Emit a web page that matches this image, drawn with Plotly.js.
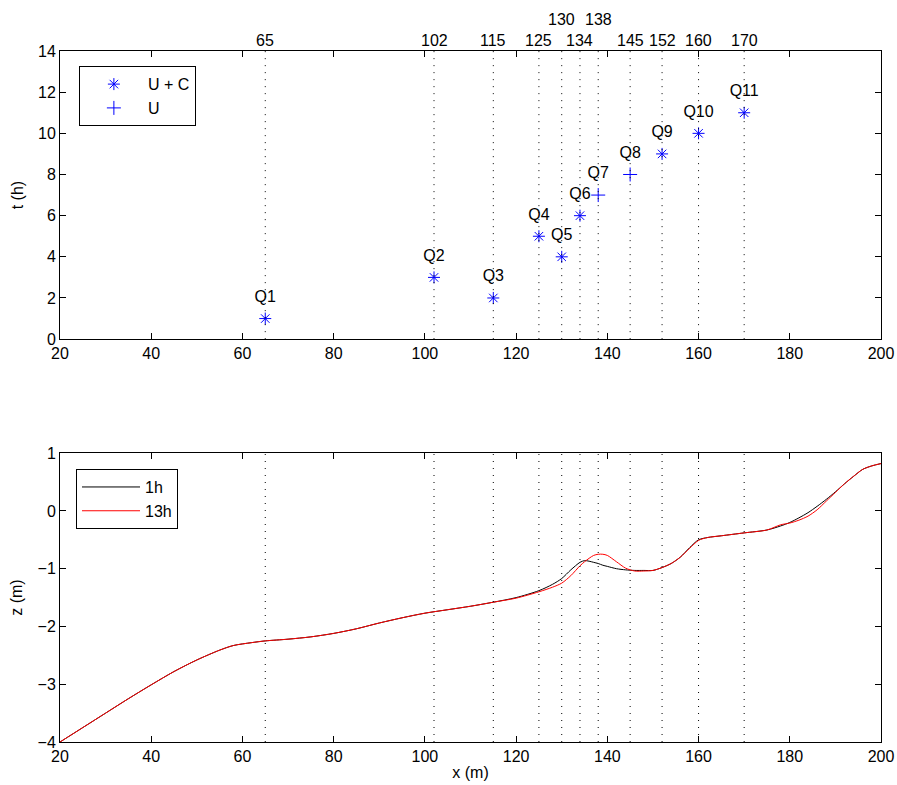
<!DOCTYPE html>
<html>
<head>
<meta charset="utf-8">
<script src="https://cdn.plot.ly/plotly-3.0.1.min.js"></script>
<style>html,body{margin:0;padding:0;background:#fff;}#chart{width:897px;height:785px;}</style>
</head>
<body>
<div id="chart"></div>
<script>
// ---- probe data (top panel) ----
var probeNames = ['Q1','Q2','Q3','Q4','Q5','Q6','Q7','Q8','Q9','Q10','Q11'];
var probeX = [65,102,115,125,130,134,138,145,152,160,170];
var probeT = [1,3,2,5,4,6,7,8,9,10,11];
var probeType = ['U + C','U + C','U + C','U + C','U + C','U + C','U','U','U + C','U + C','U + C'];

// ---- bed profile data (bottom panel) ----
var profX = [20,25,30,35,40,45,50,55,58,62,65,70,75,80,85,90,95,100,105,110,115,120,125,128,130,132,134,135,136,137,138,139,140,142,144,146,148,150,152,154,156,158,160,162,165,170,175,178,180,182,184,186,188,190,192,194,196,198,200];
var z1h  = [-4.00,-3.75,-3.50,-3.25,-3.01,-2.78,-2.58,-2.41,-2.33,-2.28,-2.25,-2.22,-2.18,-2.12,-2.04,-1.94,-1.85,-1.77,-1.71,-1.65,-1.58,-1.50,-1.38,-1.27,-1.17,-1.02,-0.89,-0.86,-0.87,-0.89,-0.91,-0.94,-0.96,-1.00,-1.02,-1.03,-1.03,-1.03,-0.98,-0.91,-0.80,-0.64,-0.50,-0.46,-0.43,-0.38,-0.33,-0.26,-0.20,-0.12,-0.03,0.08,0.20,0.33,0.47,0.60,0.72,0.78,0.82];
var z13h = [-4.00,-3.75,-3.50,-3.25,-3.01,-2.78,-2.58,-2.41,-2.33,-2.28,-2.25,-2.22,-2.18,-2.12,-2.04,-1.94,-1.85,-1.77,-1.71,-1.65,-1.58,-1.51,-1.40,-1.32,-1.25,-1.12,-0.95,-0.88,-0.82,-0.77,-0.75,-0.75,-0.77,-0.88,-0.99,-1.04,-1.04,-1.03,-0.98,-0.91,-0.80,-0.65,-0.51,-0.46,-0.43,-0.38,-0.33,-0.24,-0.21,-0.16,-0.09,0.02,0.17,0.32,0.47,0.60,0.72,0.78,0.82];

var xTicks = [20,40,60,80,100,120,140,160,180,200];
var tTicks = [0,2,4,6,8,10,12,14];
var zTicks = [-4,-3,-2,-1,0,1];

var FONT = 'Liberation Sans, Arial, Helvetica, sans-serif';
var FS = 16;

function pick(arr, type){ return arr.filter(function(v,i){ return probeType[i]===type; }); }

var traces = [
  {x: pick(probeX,'U + C'), y: pick(probeT,'U + C'), type:'scatter', mode:'markers', name:'U + C',
   xaxis:'x', yaxis:'y', legend:'legend',
   marker:{symbol:'asterisk-open', size:10, color:'#0000ff', line:{color:'#0000ff', width:1}}},
  {x: pick(probeX,'U'), y: pick(probeT,'U'), type:'scatter', mode:'markers', name:'U',
   xaxis:'x', yaxis:'y', legend:'legend',
   marker:{symbol:'cross-thin-open', size:10, color:'#0000ff', line:{color:'#0000ff', width:1}}},
  {x: probeX, y: probeT.map(function(t){return t+1;}), type:'scatter', mode:'text', text: probeNames,
   textposition:'middle center', textfont:{family:FONT, size:FS, color:'#000'},
   xaxis:'x', yaxis:'y', showlegend:false, hoverinfo:'skip'},
  {x: profX, y: z1h, type:'scatter', mode:'lines', name:'1h', xaxis:'x2', yaxis:'y2', legend:'legend2',
   line:{color:'#000000', width:1, shape:'spline', smoothing:0.8}},
  {x: profX, y: z13h, type:'scatter', mode:'lines', name:'13h', xaxis:'x2', yaxis:'y2', legend:'legend2',
   line:{color:'#ff0000', width:1, shape:'spline', smoothing:0.8}}
];

var shapes = [];
var annotations = [];
var lastLow = -1e9;
probeX.forEach(function(px){
  ['y','y2'].forEach(function(ax, k){
    shapes.push({type:'line', xref: k===0?'x':'x2', yref: ax+' domain', x0:px, x1:px, y0:0, y1:1,
      line:{color:'#000', width:1, dash:'1px,6px'}});
  });
  var raise = (px - lastLow) < 6;
  if(!raise) lastLow = px;
  annotations.push({xref:'x', yref:'paper', x:px, y:1, yanchor:'bottom', xanchor:'center',
    text:String(px), showarrow:false, yshift: raise ? 21 : 0,
    font:{family:FONT, size:FS, color:'#000'}});
});

function axisBase(){
  return {showline:true, linecolor:'#000', linewidth:1, mirror:'ticks', ticks:'inside', ticklen:6,
    tickcolor:'#000', showgrid:false, zeroline:false, tickfont:{family:FONT, size:FS, color:'#000'}};
}
var xa = Object.assign(axisBase(), {domain:[0,1], range:[20,200], tickvals:xTicks, anchor:'y'});
var ya = Object.assign(axisBase(), {domain:[0.583,1], range:[0,14], tickvals:tTicks, anchor:'x',
  title:{text:'t (h)', font:{family:FONT, size:FS, color:'#000'}, standoff:10}});
var xa2 = Object.assign(axisBase(), {domain:[0,1], range:[20,200], tickvals:xTicks, anchor:'y2',
  title:{text:'x (m)', font:{family:FONT, size:FS, color:'#000'}, standoff:2}});
var ya2 = Object.assign(axisBase(), {domain:[0,0.418], range:[-4,1], tickvals:zTicks, anchor:'x2',
  title:{text:'z (m)', font:{family:FONT, size:FS, color:'#000'}, standoff:10}});
ya2.ticktext = zTicks.map(function(v){return v<0 ? '\u2212'+Math.abs(v) : String(v);});
ya2.tickmode = 'array';

var layout = {
  width:897, height:785,
  margin:{l:60, r:16, t:51, b:43},
  paper_bgcolor:'#fff', plot_bgcolor:'#fff',
  font:{family:FONT, size:FS, color:'#000'},
  xaxis:xa, yaxis:ya, xaxis2:xa2, yaxis2:ya2,
  shapes:shapes, annotations:annotations,
  legend:{x:0.023, y:0.978, xanchor:'left', yanchor:'top', bordercolor:'#000', borderwidth:1,
    bgcolor:'#fff', font:{family:FONT, size:FS, color:'#000'}, itemwidth:58, tracegroupgap:0},
  legend2:{x:0.0195, y:0.395, xanchor:'left', yanchor:'top', bordercolor:'#000', borderwidth:1,
    bgcolor:'#fff', font:{family:FONT, size:FS, color:'#000'}, itemwidth:58, tracegroupgap:0},
  showlegend:true
};

Plotly.newPlot('chart', traces, layout, {displayModeBar:false, staticPlot:true});
</script>
</body>
</html>
